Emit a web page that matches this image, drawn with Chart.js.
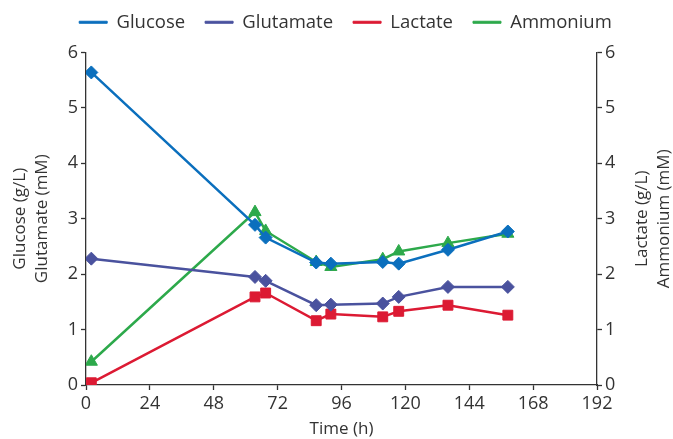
<!DOCTYPE html>
<html>
<head>
<meta charset="utf-8">
<script src="https://cdn.jsdelivr.net/npm/chart.js@4"></script>
<style>
  html, body { margin: 0; padding: 0; background: #fff; }
  #wrap { width: 673px; height: 439px; position: relative; }
</style>
</head>
<body>
<div id="wrap"><canvas id="chart"></canvas></div>
<script>
// time points (h), shared by all four series
const hours = [2, 63.5, 67.5, 86.5, 92, 111.5, 117.5, 136, 158.5];

// left axis
const glucose   = [5.64, 2.89, 2.66, 2.21, 2.19, 2.22, 2.19, 2.44, 2.77];
const glutamate = [2.28, 1.95, 1.88, 1.44, 1.45, 1.47, 1.59, 1.77, 1.77];

// right axis
const lactate  = [0.04, 1.59, 1.66, 1.16, 1.28, 1.23, 1.33, 1.44, 1.26];
const ammonium = [0.42, 3.12, 2.78, 2.22, 2.13, 2.27, 2.41, 2.56, 2.73];

const xTicks = [0, 24, 48, 72, 96, 120, 144, 168, 192];
const yTicks = [0, 1, 2, 3, 4, 5, 6];

const inkColor = '#333333';
const fontFamily = "'Open Sans', sans-serif";

function points(values) {
    return hours.map((h, i) => ({ x: h, y: values[i] }));
}

function series(label, values, color, style, radius, axis) {
    return {
        label: label,
        data: points(values),
        borderColor: color,
        backgroundColor: color,
        borderWidth: 2.5,
        pointStyle: style,
        pointRadius: radius,
        pointHoverRadius: radius,
        pointBorderWidth: 1,
        yAxisID: axis,
        tension: 0
    };
}

// right-hand axis title reads bottom-to-top, like the left one
const rightTitle = {
    id: 'rightTitle',
    afterDraw(chart) {
        const ctx = chart.ctx;
        const area = chart.chartArea;
        const midY = (area.top + area.bottom) / 2;
        ctx.save();
        ctx.fillStyle = inkColor;
        ctx.font = "17px " + fontFamily;
        ctx.textAlign = 'center';
        ctx.textBaseline = 'middle';
        ctx.translate(642, midY);
        ctx.rotate(-Math.PI / 2);
        ctx.fillText('Lactate (g/L)', 0, 0);
        ctx.fillText('Ammonium (mM)', 0, 22);
        ctx.restore();
    }
};

// extra gap under the legend without moving its text
const legendGap = {
    id: 'legendGap',
    beforeLayout(chart) {
        const legend = chart.legend;
        if (legend && !legend._gapAdded) {
            const fit = legend.fit;
            legend.fit = function () {
                fit.call(this);
                this.height += 11;
            };
            legend._gapAdded = true;
        }
    }
};

const axisGrid = {
    drawOnChartArea: false,
    drawTicks: true,
    tickLength: 5,
    tickWidth: 1.3,
    color: inkColor
};

const ctx = document.getElementById('chart').getContext('2d');
const chart = new Chart(ctx, {
    type: 'line',
    data: {
        datasets: [
            series('Glucose', glucose, '#0b6fbd', 'rectRot', 6.5, 'y'),
            series('Glutamate', glutamate, '#4a529e', 'rectRot', 6.5, 'y'),
            series('Lactate', lactate, '#dc1a33', 'rect', 7, 'y1'),
            series('Ammonium', ammonium, '#2da94b', 'triangle', 7, 'y1')
        ]
    },
    options: {
        responsive: true,
        maintainAspectRatio: false,
        animation: false,
        // right padding < 0 nudges the centred legend to the right like the original
        layout: { padding: { top: -7, left: 0, right: -18, bottom: 0 } },
        plugins: {
            legend: {
                position: 'top',
                labels: {
                    color: inkColor,
                    font: { family: fontFamily, size: 18.5 },
                    boxWidth: 28,
                    boxHeight: 2,
                    padding: 20,
                    generateLabels: (chart) => Chart.defaults.plugins.legend.labels
                        .generateLabels(chart)
                        .map(item => Object.assign(item, { lineWidth: 1 }))
                }
            },
            tooltip: { enabled: false }
        },
        scales: {
            x: {
                type: 'linear',
                min: 0,
                max: 192,
                afterBuildTicks: (scale) => { scale.ticks = xTicks.map(v => ({ value: v })); },
                afterFit: (scale) => { scale.height = 54; },
                grid: axisGrid,
                border: { color: inkColor, width: 1.3 },
                ticks: { color: inkColor, font: { family: fontFamily, size: 18 }, padding: 3, maxRotation: 0 },
                title: {
                    display: true,
                    text: 'Time (h)',
                    color: inkColor,
                    font: { family: fontFamily, size: 17, lineHeight: 1.1 },
                    padding: { top: 0, bottom: 0 }
                }
            },
            y: {
                position: 'left',
                min: 0,
                max: 6,
                afterBuildTicks: (scale) => { scale.ticks = yTicks.map(v => ({ value: v })); },
                afterFit: (scale) => { scale.width = 86; },
                grid: axisGrid,
                border: { color: inkColor, width: 1.3 },
                ticks: { color: inkColor, font: { family: fontFamily, size: 18 }, padding: 3 },
                title: {
                    display: true,
                    text: ['Glucose (g/L)', 'Glutamate (mM)'],
                    color: inkColor,
                    font: { family: fontFamily, size: 17, lineHeight: 1.3 },
                    padding: { top: 9, bottom: 0 }
                }
            },
            y1: {
                position: 'right',
                min: 0,
                max: 6,
                afterBuildTicks: (scale) => { scale.ticks = yTicks.map(v => ({ value: v })); },
                afterFit: (scale) => { scale.width = 94; },
                grid: axisGrid,
                border: { color: inkColor, width: 1.3 },
                ticks: { color: inkColor, font: { family: fontFamily, size: 18 }, padding: 3 }
            }
        }
    },
    plugins: [rightTitle, legendGap]
});
</script>
</body>
</html>
